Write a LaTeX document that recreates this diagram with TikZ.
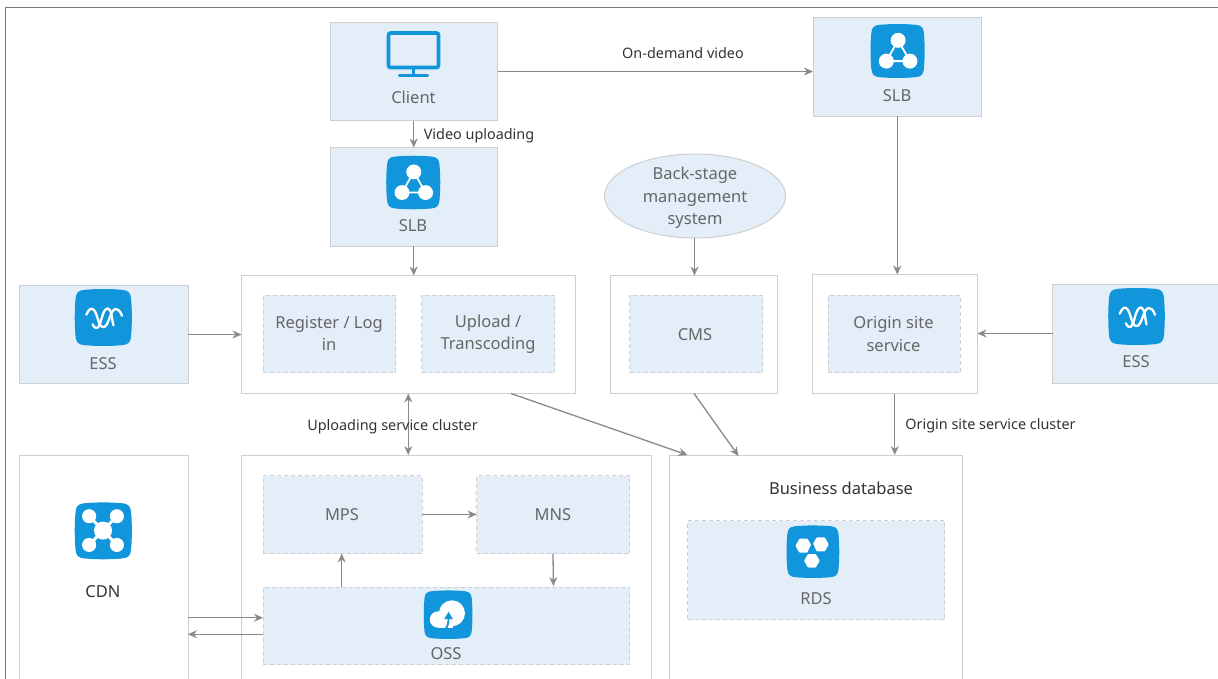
\documentclass[tikz,border=0pt]{standalone}
\usepackage{fontspec}
\setmainfont{Noto Sans}
\usetikzlibrary{arrows.meta,calc,shapes.geometric}
\definecolor{boxfill}{HTML}{E3EEF9}
\definecolor{boxline}{HTML}{CFCFCF}
\definecolor{arrowgray}{HTML}{8A8A8A}
\definecolor{iconblue}{HTML}{1296DB}
\definecolor{framegray}{HTML}{777777}
\definecolor{softtext}{HTML}{666666}
\definecolor{darktext}{HTML}{333333}
\tikzset{
  anybox/.style={inner sep=0pt,outer sep=0pt,line width=1pt,draw=boxline},
  bluebox/.style={anybox,fill=boxfill},
  whitebox/.style={anybox,fill=white},
  dashbox/.style={anybox,fill=boxfill,dash pattern=on 4pt off 3pt},
  softlabel/.style={inner sep=0pt,text=softtext,align=center,font=\fontsize{16.5}{22.5}\selectfont},
  darklabel/.style={inner sep=0pt,text=darktext,align=center,font=\fontsize{16.5}{22.5}\selectfont},
  linklabel/.style={inner sep=0pt,text=darktext,font=\fontsize{14.4}{16}\selectfont},
  arr/.style={draw=arrowgray,line width=1.3pt,-{Stealth[length=9pt,width=8pt]}},
  biarr/.style={draw=arrowgray,line width=1.3pt,{Stealth[length=9pt,width=8pt]}-{Stealth[length=9pt,width=8pt]}},
  iconat/.style n args={4}{shift={(#1,#2)},x=#3pt,y=-#4pt},
  iconline/.style={draw=white,line cap=round,line join=round}
}
% name, style, x1, y1, x2, y2
\newcommand\rectnode[6]{%
  \node[#2,minimum width={(#5-#3)*1pt},minimum height={(#6-#4)*1pt}] (#1) at ({(#3+#5)/2},{(#4+#6)/2}) {};}
\newcommand\squircle{%
  \fill[iconblue] (0.16,0.01) .. controls (0.38,-0.01) and (0.62,-0.01) .. (0.84,0.01)
    .. controls (0.95,0.02) and (0.98,0.07) .. (0.99,0.16)
    .. controls (1.01,0.38) and (1.01,0.62) .. (0.99,0.84)
    .. controls (0.98,0.93) and (0.95,0.98) .. (0.84,0.99)
    .. controls (0.62,1.01) and (0.38,1.01) .. (0.16,0.99)
    .. controls (0.05,0.98) and (0.02,0.93) .. (0.01,0.84)
    .. controls (-0.01,0.62) and (-0.01,0.38) .. (0.01,0.16)
    .. controls (0.02,0.07) and (0.05,0.02) .. (0.16,0.01) -- cycle;}
\newcommand\slbicon[4]{\begin{scope}[iconat={#1}{#2}{#3}{#4}]
  \squircle
  \draw[iconline,line width=1.8pt] (0.51,0.30) -- (0.29,0.69) -- (0.73,0.69) -- cycle;
  \fill[white] (0.51,0.30) circle[radius=0.14];
  \fill[white] (0.29,0.69) circle[radius=0.14];
  \fill[white] (0.73,0.69) circle[radius=0.14];
\end{scope}}
\newcommand\essicon[4]{\begin{scope}[iconat={#1}{#2}{#3}{#4}]
  \squircle
  \draw[iconline,line width=2.3pt] (0.20,0.45) .. controls (0.24,0.36) and (0.28,0.33) .. (0.31,0.35)
    .. controls (0.40,0.38) and (0.40,0.67) .. (0.50,0.67)
    .. controls (0.60,0.67) and (0.62,0.35) .. (0.72,0.35)
    .. controls (0.76,0.35) and (0.80,0.38) .. (0.83,0.47);
  \draw[iconline,line width=2.3pt] (0.31,0.62) .. controls (0.34,0.68) and (0.37,0.70) .. (0.40,0.68)
    .. controls (0.47,0.62) and (0.48,0.34) .. (0.58,0.34)
    .. controls (0.65,0.34) and (0.65,0.55) .. (0.68,0.64);
\end{scope}}
\newcommand\cdnicon[4]{\begin{scope}[iconat={#1}{#2}{#3}{#4}]
  \squircle
  \draw[iconline,line width=3pt] (0.25,0.24) -- (0.74,0.75) (0.74,0.24) -- (0.25,0.75);
  \fill[white] (0.25,0.24) circle[radius=0.125];
  \fill[white] (0.74,0.24) circle[radius=0.125];
  \fill[white] (0.25,0.75) circle[radius=0.125];
  \fill[white] (0.74,0.75) circle[radius=0.125];
  \fill[white] (0.495,0.495) circle[radius=0.16];
\end{scope}}
\newcommand\hexat[3]{\fill[white,rounded corners=0.8pt] ({#1+#3},#2) -- ({#1+#3/2},{#2+#3*0.87}) -- ({#1-#3/2},{#2+#3*0.87}) -- ({#1-#3},#2) -- ({#1-#3/2},{#2-#3*0.87}) -- ({#1+#3/2},{#2-#3*0.87}) -- cycle;}
\newcommand\rdsicon[4]{\begin{scope}[iconat={#1}{#2}{#3}{#4}]
  \squircle
  \hexat{0.32}{0.385}{0.155}
  \hexat{0.65}{0.36}{0.155}
  \hexat{0.48}{0.675}{0.15}
  \fill[iconblue] (0.49,0.31) -- (0.39,0.53) -- (0.58,0.53) -- cycle;
\end{scope}}
\newcommand\ossicon[4]{\begin{scope}[iconat={#1}{#2}{#3}{#4}]
  \squircle
  \fill[white] (0.58,0.47) circle[radius=0.27];
  \fill[white] (0.29,0.60) circle[radius=0.17];
  \fill[white] (0.29,0.56) rectangle (0.60,0.77);
  \draw[iconblue,line width=1.8pt] (0.44,0.80) .. controls (0.50,0.74) and (0.51,0.66) .. (0.51,0.54);
  \fill[iconblue] (0.51,0.44) -- (0.42,0.59) -- (0.60,0.59) -- cycle;
\end{scope}}
\begin{document}
\begin{tikzpicture}[x=1pt,y=-1pt]
\path[use as bounding box,clip] (0,0) rectangle (1218,679);
\fill[white] (0,0) rectangle (1218,679);
\draw[framegray,line width=1pt] (1218,7.5) -- (5.5,7.5) -- (5.5,679);

% top row
\rectnode{client}{bluebox}{330}{23}{497.5}{121}
\rectnode{slbA}{bluebox}{330}{147.5}{497.5}{246}
\rectnode{slbB}{bluebox}{813}{17.5}{981.5}{116.5}
\node[ellipse,bluebox,minimum width=181pt,minimum height=84pt] (mgmt) at (695,196) {};
\node[softlabel] (mgmttxt) at (695,198) {Back-stage\\management\\system};

% service clusters
\rectnode{upcluster}{whitebox}{241.5}{275.5}{575}{393.5}
\rectnode{register}{dashbox}{263}{295}{395.5}{372.5}
\rectnode{upload}{dashbox}{421.5}{295}{554.5}{372.5}
\rectnode{cmsbox}{whitebox}{610.5}{275.5}{777.5}{393.5}
\rectnode{cms}{dashbox}{629.5}{295}{762.5}{372.5}
\rectnode{origbox}{whitebox}{812}{274.5}{977.5}{393.5}
\rectnode{orig}{dashbox}{828}{295}{960}{372.5}
\rectnode{essA}{bluebox}{19.5}{285.5}{188}{383.5}
\rectnode{essB}{bluebox}{1052.5}{284.5}{1230}{383.5}

% lower row
\rectnode{cdnbox}{whitebox}{19.5}{455}{188}{700}
\rectnode{midbox}{whitebox}{241.5}{455}{651.5}{700}
\rectnode{mps}{dashbox}{263}{475.5}{422}{553.5}
\rectnode{mns}{dashbox}{476.5}{475.5}{629.5}{553.5}
\rectnode{oss}{dashbox}{263}{587}{629.5}{664.5}
\rectnode{dbbox}{whitebox}{669.5}{455}{962}{700}
\rectnode{rds}{dashbox}{687.5}{520.5}{944.5}{619.5}

% icons
\draw[iconblue,line width=3.6pt,rounded corners=2pt] (388.5,33) rectangle (438.5,67.5);
\draw[iconblue,line width=2.8pt] (413.5,68) -- (413.5,75);
\draw[iconblue,line width=3.4pt,line cap=round] (399.5,75.5) -- (427.5,75.5);
\slbicon{386.5}{156}{53.5}{53}
\slbicon{870.8}{24.3}{53.6}{53.4}
\essicon{75}{289.3}{56.6}{56.4}
\essicon{1108.5}{288.3}{56}{56.4}
\cdnicon{75}{502.7}{56.6}{56.3}
\rdsicon{786.8}{525.7}{52.2}{52}
\ossicon{424}{590.7}{48.2}{48}

% box texts
\node[softlabel] (clienttxt) at (413.5,97) {Client};
\node[softlabel] (slbAtxt) at (413,226) {SLB};
\node[softlabel] (slbBtxt) at (897,96) {SLB};
\node[softlabel] (essAtxt) at (103,364) {ESS};
\node[softlabel] (essBtxt) at (1136,362) {ESS};
\node[softlabel] (registertxt) at (329,333.5) {Register / Log\\in};
\node[softlabel] (uploadtxt) at (488,334) {Upload /\\Transcoding};
\node[softlabel] (cmstxt) at (695,334.5) {CMS};
\node[softlabel] (origtxt) at (893.5,334) {Origin site\\service};
\node[darklabel] (cdntxt) at (103,592) {CDN};
\node[softlabel] (mpstxt) at (342,515) {MPS};
\node[softlabel] (mnstxt) at (553,515) {MNS};
\node[softlabel] (osstxt) at (446,654) {OSS};
\node[softlabel] (rdstxt) at (816,599) {RDS};
\node[darklabel] (dbtxt) at (841,488.5) {Business database};

% connectors
\draw[arr] ($(client.east)+(0,-0.5)$) -- ($(client.east -| slbB.west)+(0,-0.5)$);
\draw[arr] (client.south) -- (slbA.north);
\draw[arr] (slbA.south) -- (slbA.south |- upcluster.north);
\draw[arr] (slbB.south) -- (slbB.south |- origbox.north);
\draw[arr] ($(mgmt.south)+(-0.5,0)$) -- ($(mgmt.south |- cmsbox.north)+(-0.5,0)$);
\draw[arr] (essA.east) -- (essA.east -| upcluster.west);
\draw[arr] ($(essB.west)+(0,-0.5)$) -- ($(essB.west -| origbox.east)+(0,-0.5)$);
\draw[biarr] (upcluster.south) -- (upcluster.south |- midbox.north);
\draw[arr] ($(upcluster.south west)!0.808!(upcluster.south east)$) -- ($(dbbox.north west)+(18,0)$);
\draw[arr] (cmsbox.south) -- ($(dbbox.north west)+(69,1)$);
\draw[arr] (origbox.south) -- (origbox.south |- dbbox.north);
\draw[arr] (mps.east) -- (mns.west);
\draw[arr] ($(oss.north west)+(78.7,0)$) -- ($(mps.south west)+(78.7,0)$);
\draw[arr] (mns.south) -- ($(oss.north west)+(290.4,-1)$);
\draw[arr] ($(cdnbox.east |- oss.west)+(0,-8)$) -- ($(oss.west)+(0,-8)$);
\draw[arr] ($(oss.west)+(0,8.5)$) -- ($(cdnbox.east |- oss.west)+(0,8.5)$);

% connector labels
\node[linklabel] (lblDemand) at (683,53.5) {On-demand video};
\node[linklabel] (lblUpload) at (479,135.5) {Video uploading};
\node[linklabel] (lblCluster) at (392.5,426.5) {Uploading service cluster};
\node[linklabel] (lblOrigin) at (990.5,425.5) {Origin site service cluster};
\end{tikzpicture}
\end{document}
